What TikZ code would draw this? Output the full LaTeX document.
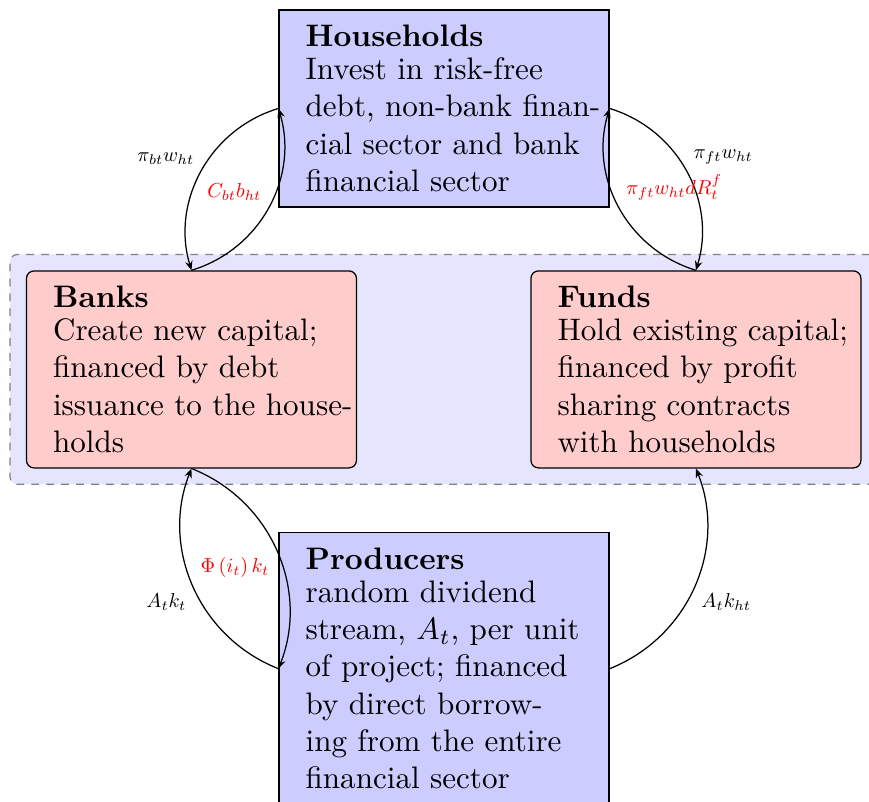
\documentclass[tikz,border=0pt]{standalone}
\usepackage{amsmath}
\usetikzlibrary{arrows.meta,fit,backgrounds}

\begin{document}
\begin{tikzpicture}[
  agent/.style={draw, fill=blue!20, text width=89pt, inner xsep=8.5pt, inner ysep=3.3pt,
    minimum width=3.729cm, minimum height=2.226cm, align=left},
  sector/.style={agent, fill=red!20, rounded corners=2.4pt},
  flow/.style={-{Stealth[length=3pt,width=2.4pt]}, bend angle=45},
  lbl/.style={scale=0.65}
]

\useasboundingbox (0, 0) rectangle (9.821, 9.063);

\node[agent] (hh) at (5.018, 7.837) {\textbf{Households}\\[-1.5pt] Invest in risk-free\\
  \mbox{debt, non-bank finan-}\\ \mbox{cial sector and bank}\\ financial sector};
\node[sector] (banks) at (2.164, 4.888) {\textbf{Banks}\\[-1.5pt] \mbox{Create new capital;}\\
  financed by debt\\ \mbox{issuance to the house-}\\ holds};
\node[sector] (funds) at (7.865, 4.888) {\textbf{Funds}\\[-1.5pt] \mbox{Hold existing capital;}\\
  financed by profit\\ sharing contracts\\ with households};
\node[agent, anchor=north, inner ysep=5pt] (prod) at (5.018, 3.051) {\textbf{Producers}\\[-1.5pt] random dividend\\
  \mbox{stream, $A_t$, per unit}\\ \mbox{of project; financed}\\ by direct borrow-\\
  ing from the entire\\ financial sector};

% financial sector
\begin{scope}[on background layer]
\node[fit=(banks)(funds), inner sep=5.1pt, draw=gray, dash pattern=on 2.5pt off 2.3pt,
  fill=blue!10, rounded corners=2.4pt] (fin) {};
\end{scope}

\draw[flow] (hh.west) to[bend right] node[lbl, above left] {$\pi_{bt}w_{ht}$} (banks.north);
\draw[flow] (banks.north) to[bend right] node[lbl, above left, red] {$C_{bt}b_{ht}$} (hh.west);

\draw[flow] (hh.east) to[bend left] node[lbl, above right] {$\pi_{ft}w_{ht}$} (funds.north);
\draw[flow] (funds.north) to[bend left] node[lbl, above right, red] {$\pi_{ft}w_{ht}dR_t^f$} (hh.east);

\draw[flow] (prod.west) to[bend left] node[lbl, below left] {$A_tk_t$} (banks.south);
\draw[flow] (banks.south) to[bend left] node[lbl, below left, red] {$\Phi\left(i_t\right)k_t$} (prod.west);

\draw[flow] (prod.east) to[bend right] node[lbl, below right] {$A_tk_{ht}$} (funds.south);

\end{tikzpicture}
\end{document}
